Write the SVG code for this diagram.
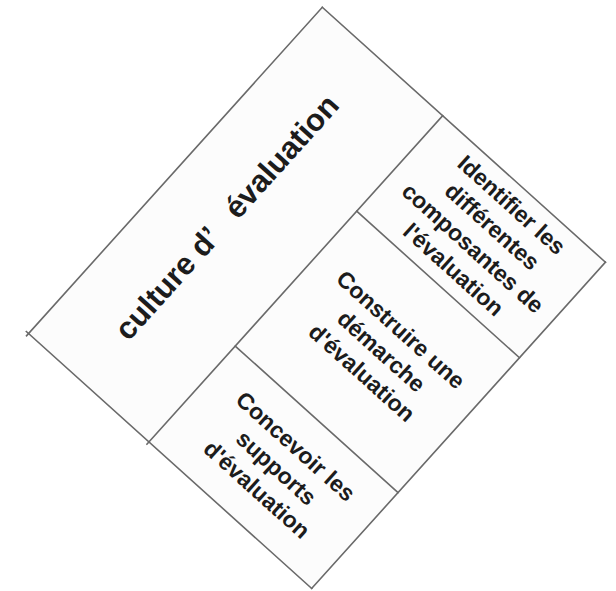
<svg xmlns="http://www.w3.org/2000/svg" width="616" height="591" viewBox="0 0 616 591">
<style>
.edge{stroke:#6a6a6a;stroke-width:1.6;fill:none;stroke-linecap:square}
.box{fill:#fcfcfc;stroke:none}
.t{font-family:"Liberation Sans",Arial,sans-serif;font-weight:bold;fill:#1c1c1c;text-anchor:middle}
.title{font-size:31px;white-space:pre}
.small{font-size:23px}
</style>
<rect width="616" height="591" fill="#ffffff"/>
<g transform="translate(322.3,7.3) rotate(42)">
  <rect class="box" x="0" y="0" width="381" height="439"/>
  <g id="connectors">
    <line class="edge" x1="0" y1="0" x2="381" y2="0"/>
    <line class="edge" x1="381" y1="0" x2="381" y2="439"/>
    <line class="edge" x1="-3" y1="439" x2="381" y2="439"/>
    <line class="edge" x1="0" y1="0" x2="0" y2="442"/>
    <line class="edge" x1="162" y1="0" x2="162" y2="442"/>
    <line class="edge" x1="162" y1="128.5" x2="381" y2="128.5"/>
    <line class="edge" x1="162" y1="310" x2="381" y2="310"/>
  </g>
  <g id="culture">
    <text class="t title" transform="translate(80,220) rotate(-90)" xml:space="preserve">culture d’   évaluation</text>
  </g>
  <g id="identifier">
    <text class="t small" x="273" y="28">Identifier les</text>
    <text class="t small" x="273" y="57">différentes</text>
    <text class="t small" x="273" y="86">composantes de</text>
    <text class="t small" x="273" y="115">l'évaluation</text>
  </g>
  <g id="construire">
    <text class="t small" x="274" y="195">Construire une</text>
    <text class="t small" x="274" y="224">démarche</text>
    <text class="t small" x="274" y="253">d'évaluation</text>
  </g>
  <g id="concevoir">
    <text class="t small" x="274" y="352">Concevoir les</text>
    <text class="t small" x="274" y="381">supports</text>
    <text class="t small" x="274" y="410">d'évaluation</text>
  </g>
</g>
</svg>
